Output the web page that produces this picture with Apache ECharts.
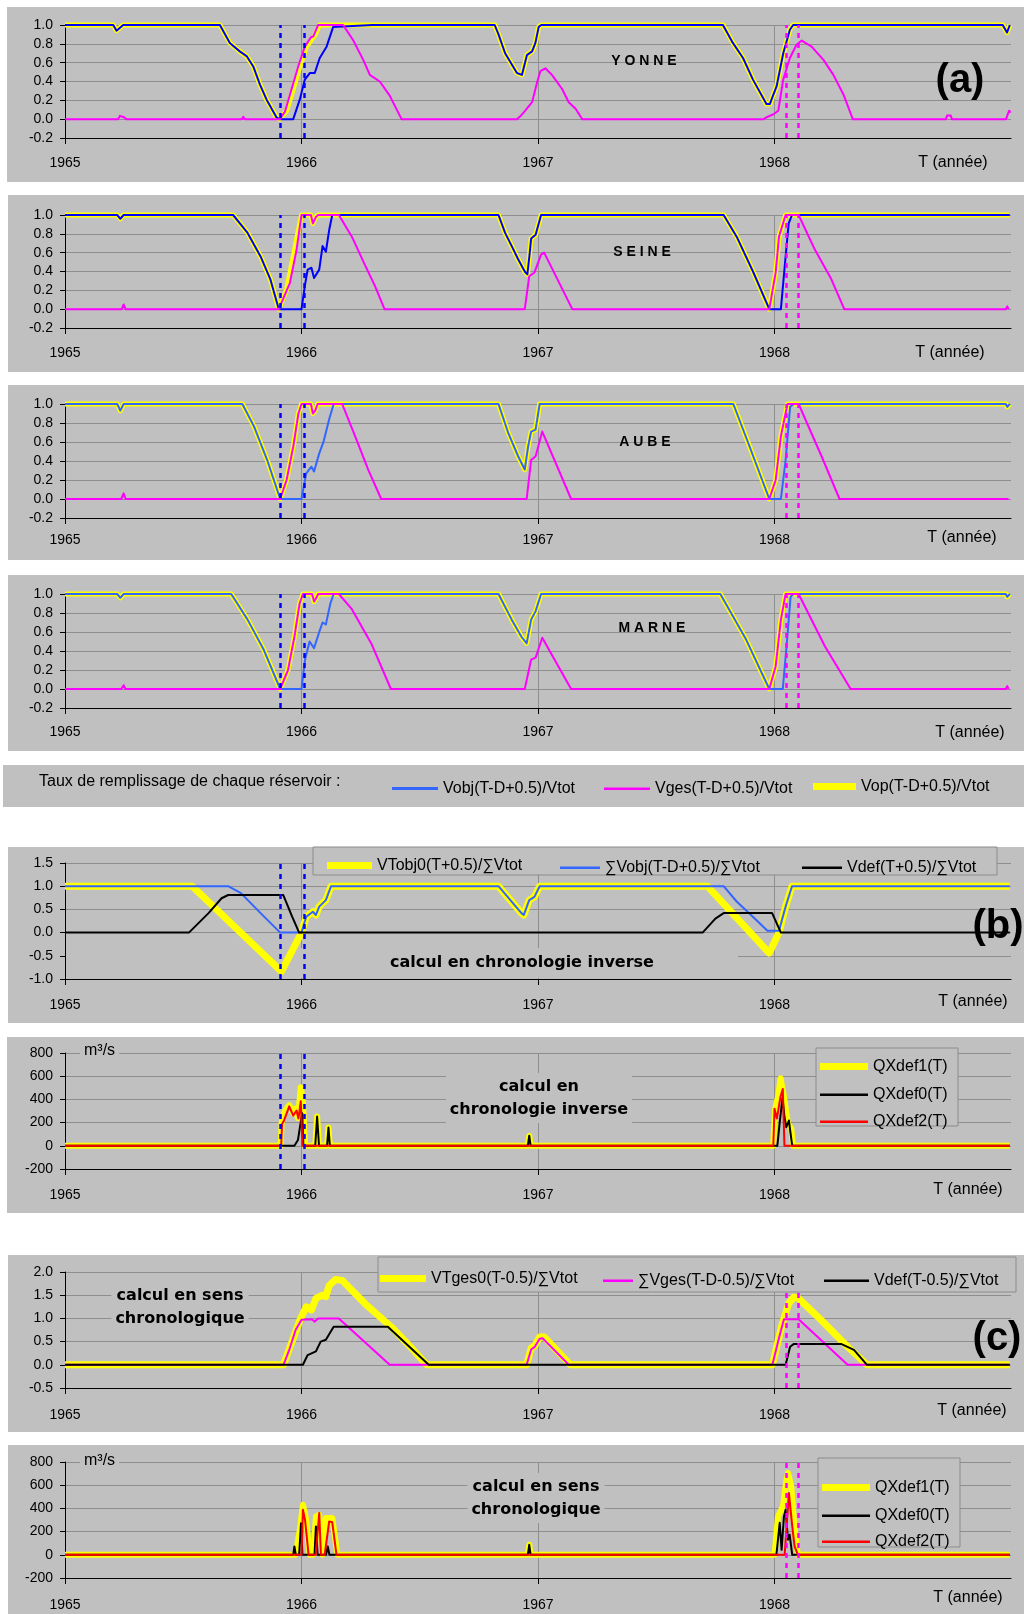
<!DOCTYPE html>
<html>
<head>
<meta charset="utf-8">
<script src="https://cdn.jsdelivr.net/npm/echarts@6/dist/echarts.min.js"></script>
<style>
html, body { margin: 0; padding: 0; background: #fff; }
#main { width: 1024px; height: 1614px; }
</style>
</head>
<body>
<div id="main"></div>
<script>
// ---------- data (x = année, y = valeur) ----------
var years = [1965, 1966, 1967, 1968];

// (a) taux de remplissage de chaque réservoir
var yonneVop = [[1965,1],[1965.204,1],[1965.218,0.94],[1965.246,1],[1965.655,1],[1965.697,0.81],[1965.739,0.72],[1965.768,0.67],[1965.796,0.56],[1965.824,0.37],[1965.852,0.21],[1965.894,0.02],[1965.908,0],[1965.937,0.09],[1965.965,0.32],[1965.993,0.56],[1966.021,0.77],[1966.056,0.89],[1966.077,1],[1966.3,1],[1966.6,1],[1966.817,1],[1966.833,0.9],[1966.861,0.7],[1966.911,0.49],[1966.932,0.47],[1966.953,0.68],[1966.975,0.72],[1966.989,0.81],[1967.003,0.98],[1967.014,1],[1967.782,1],[1967.824,0.81],[1967.867,0.65],[1967.909,0.42],[1967.966,0.16],[1967.98,0.16],[1968.009,0.35],[1968.037,0.7],[1968.065,0.95],[1968.079,1],[1968.965,1],[1968.983,0.92],[1968.995,1]];
var yonneVobj = [[1965,1],[1965.204,1],[1965.218,0.94],[1965.246,1],[1965.655,1],[1965.697,0.81],[1965.739,0.72],[1965.768,0.67],[1965.796,0.56],[1965.824,0.37],[1965.852,0.21],[1965.894,0.02],[1965.908,0],[1965.965,0],[1965.993,0.21],[1966.014,0.42],[1966.035,0.49],[1966.056,0.49],[1966.077,0.65],[1966.106,0.77],[1966.134,0.98],[1966.141,1],[1966.3,1],[1966.6,1],[1966.817,1],[1966.833,0.9],[1966.861,0.7],[1966.911,0.49],[1966.932,0.47],[1966.953,0.68],[1966.975,0.72],[1966.989,0.81],[1967.003,0.98],[1967.014,1],[1967.782,1],[1967.824,0.81],[1967.867,0.65],[1967.909,0.42],[1967.966,0.16],[1967.98,0.16],[1968.009,0.35],[1968.037,0.7],[1968.065,0.95],[1968.079,1],[1968.965,1],[1968.983,0.92],[1968.995,1]];
var yonneVges = [[1965,0],[1965.042,0],[1965.049,0.02],[1965.056,0],[1965.225,0],[1965.232,0.035],[1965.25,0.02],[1965.26,0],[1965.425,0],[1965.43,0.02],[1965.436,0],[1965.7,0],[1965.704,0.015],[1965.708,0],[1965.748,0],[1965.754,0.025],[1965.76,0],[1965.908,0],[1965.93,0.08],[1965.958,0.32],[1965.986,0.56],[1966.014,0.77],[1966.04,0.87],[1966.05,0.88],[1966.07,1],[1966.176,1],[1966.218,0.84],[1966.261,0.63],[1966.289,0.47],[1966.331,0.4],[1966.373,0.25],[1966.423,0],[1966.588,0],[1966.592,0.015],[1966.596,0],[1966.911,0],[1966.925,0.03],[1966.946,0.09],[1966.975,0.18],[1966.996,0.39],[1967.01,0.51],[1967.031,0.54],[1967.059,0.47],[1967.102,0.32],[1967.13,0.18],[1967.159,0.11],[1967.187,0],[1967.396,0],[1967.4,0.015],[1967.404,0],[1967.707,0],[1967.711,0.015],[1967.715,0],[1967.955,0],[1967.966,0.02],[1967.994,0.05],[1968.016,0.09],[1968.037,0.42],[1968.065,0.65],[1968.093,0.79],[1968.115,0.835],[1968.157,0.77],[1968.207,0.63],[1968.249,0.47],[1968.292,0.26],[1968.331,0],[1968.67,0],[1968.674,0.02],[1968.68,0],[1968.725,0],[1968.73,0.04],[1968.745,0.04],[1968.75,0],[1968.979,0],[1968.992,0.09],[1968.998,0.07]];

var seineVop = [[1965,1],[1965.221,1],[1965.234,0.96],[1965.248,1],[1965.711,1],[1965.772,0.81],[1965.827,0.56],[1965.868,0.32],[1965.904,0],[1965.937,0.21],[1965.965,0.56],[1965.987,0.84],[1966.0,1],[1966.04,1],[1966.048,0.91],[1966.061,0.98],[1966.07,1],[1966.833,1],[1966.861,0.81],[1966.889,0.67],[1966.916,0.53],[1966.944,0.4],[1966.955,0.37],[1966.963,0.55],[1966.971,0.75],[1966.99,0.79],[1967.013,1],[1967.785,1],[1967.84,0.77],[1967.909,0.4],[1967.978,0],[1968.005,0.39],[1968.019,0.77],[1968.047,1],[1968.995,1]];
var seineVobj = [[1965,1],[1965.221,1],[1965.234,0.96],[1965.248,1],[1965.711,1],[1965.772,0.81],[1965.827,0.56],[1965.868,0.32],[1965.904,0],[1966.0,0],[1966.015,0.26],[1966.026,0.42],[1966.042,0.44],[1966.053,0.33],[1966.075,0.42],[1966.089,0.67],[1966.103,0.61],[1966.117,0.84],[1966.13,1],[1966.833,1],[1966.861,0.81],[1966.889,0.67],[1966.916,0.53],[1966.944,0.4],[1966.955,0.37],[1966.963,0.55],[1966.971,0.75],[1966.99,0.79],[1967.013,1],[1967.785,1],[1967.84,0.77],[1967.909,0.4],[1967.978,0],[1968.027,0],[1968.047,0.56],[1968.06,0.91],[1968.074,1],[1968.995,1]];
var seineVges = [[1965,0],[1965.24,0],[1965.248,0.05],[1965.256,0],[1965.904,0],[1965.951,0.28],[1965.979,0.63],[1966.0,1],[1966.04,1],[1966.048,0.91],[1966.061,0.98],[1966.07,1],[1966.158,1],[1966.213,0.77],[1966.268,0.47],[1966.31,0.25],[1966.351,0],[1966.944,0],[1966.963,0.35],[1966.985,0.39],[1967.013,0.58],[1967.026,0.6],[1967.145,0],[1967.978,0],[1968.005,0.39],[1968.019,0.77],[1968.047,1],[1968.102,1],[1968.171,0.63],[1968.24,0.32],[1968.295,0],[1968.978,0],[1968.984,0.03],[1968.99,0]];

var aubeVop = [[1965,1],[1965.221,1],[1965.234,0.93],[1965.248,1],[1965.75,1],[1965.8,0.76],[1965.855,0.41],[1965.91,0],[1965.937,0.2],[1965.965,0.55],[1965.987,0.9],[1966.0,1],[1966.04,1],[1966.048,0.9],[1966.058,0.93],[1966.068,1],[1966.833,1],[1966.875,0.69],[1966.916,0.45],[1966.944,0.31],[1966.958,0.55],[1966.971,0.71],[1966.99,0.73],[1967.007,1],[1967.826,1],[1967.895,0.55],[1967.978,0],[1968.005,0.2],[1968.027,0.66],[1968.055,1],[1968.978,1],[1968.984,0.97],[1968.995,1]];
var aubeVobj = [[1965,1],[1965.221,1],[1965.234,0.93],[1965.248,1],[1965.75,1],[1965.8,0.76],[1965.855,0.41],[1965.91,0],[1966.0,0],[1966.02,0.27],[1966.042,0.34],[1966.053,0.29],[1966.075,0.48],[1966.094,0.61],[1966.117,0.84],[1966.136,1],[1966.833,1],[1966.875,0.69],[1966.916,0.45],[1966.944,0.31],[1966.958,0.55],[1966.971,0.71],[1966.99,0.73],[1967.007,1],[1967.826,1],[1967.895,0.55],[1967.978,0],[1968.027,0],[1968.047,0.41],[1968.066,0.97],[1968.082,1],[1968.978,1],[1968.984,0.97],[1968.995,1]];
var aubeVges = [[1965,0],[1965.238,0],[1965.248,0.06],[1965.256,0],[1965.91,0],[1965.937,0.2],[1965.965,0.55],[1965.987,0.9],[1966.0,1],[1966.04,1],[1966.048,0.9],[1966.058,0.93],[1966.068,1],[1966.172,1],[1966.227,0.66],[1966.282,0.31],[1966.337,0],[1966.952,0],[1966.971,0.41],[1966.99,0.45],[1967.018,0.71],[1967.025,0.7],[1967.14,0],[1967.978,0],[1968.005,0.2],[1968.027,0.66],[1968.055,1],[1968.102,1],[1968.199,0.45],[1968.275,0],[1968.978,0],[1968.984,0.02],[1968.99,0]];

var marneVop = [[1965,1],[1965.221,1],[1965.234,0.96],[1965.248,1],[1965.703,1],[1965.772,0.73],[1965.841,0.41],[1965.91,0],[1965.943,0.2],[1965.97,0.55],[1965.992,0.9],[1966.006,1],[1966.045,1],[1966.053,0.92],[1966.063,0.96],[1966.07,1],[1966.833,1],[1966.889,0.73],[1966.93,0.55],[1966.952,0.48],[1966.971,0.73],[1966.99,0.82],[1967.013,1],[1967.771,1],[1967.88,0.52],[1967.978,0],[1968.005,0.24],[1968.027,0.73],[1968.047,1],[1968.978,1],[1968.984,0.97],[1968.995,1]];
var marneVobj = [[1965,1],[1965.221,1],[1965.234,0.96],[1965.248,1],[1965.703,1],[1965.772,0.73],[1965.841,0.41],[1965.91,0],[1966.0,0],[1966.015,0.31],[1966.034,0.5],[1966.053,0.43],[1966.075,0.6],[1966.089,0.7],[1966.103,0.68],[1966.122,0.9],[1966.136,1],[1966.833,1],[1966.889,0.73],[1966.93,0.55],[1966.952,0.48],[1966.971,0.73],[1966.99,0.82],[1967.013,1],[1967.771,1],[1967.88,0.52],[1967.978,0],[1968.035,0],[1968.052,0.48],[1968.068,0.97],[1968.08,1],[1968.978,1],[1968.984,0.97],[1968.995,1]];
var marneVges = [[1965,0],[1965.238,0],[1965.248,0.04],[1965.256,0],[1965.91,0],[1965.943,0.2],[1965.97,0.55],[1965.992,0.9],[1966.006,1],[1966.045,1],[1966.053,0.92],[1966.063,0.96],[1966.07,1],[1966.158,1],[1966.213,0.84],[1966.295,0.48],[1966.378,0],[1966.944,0],[1966.971,0.31],[1966.99,0.33],[1967.018,0.54],[1967.025,0.52],[1967.14,0],[1967.978,0],[1968.005,0.24],[1968.027,0.73],[1968.047,1],[1968.102,1],[1968.213,0.45],[1968.322,0],[1968.978,0],[1968.984,0.03],[1968.99,0]];

// (b) calcul en chronologie inverse
var bVTobj0 = [[1965,1],[1965.538,1],[1965.915,-0.84],[1966.0,0],[1966.02,0.34],[1966.048,0.45],[1966.061,0.38],[1966.075,0.56],[1966.103,0.7],[1966.125,1],[1966.833,1],[1966.93,0.42],[1966.94,0.38],[1966.963,0.7],[1966.985,0.77],[1967.007,1],[1967.716,1],[1967.978,-0.44],[1968.019,0],[1968.047,0.56],[1968.074,1],[1968.995,1]];
var bSumVobj = [[1965,1],[1965.69,1],[1965.744,0.85],[1965.827,0.42],[1965.91,0],[1966.0,0],[1966.02,0.34],[1966.048,0.45],[1966.061,0.38],[1966.075,0.56],[1966.103,0.7],[1966.125,1],[1966.833,1],[1966.93,0.42],[1966.94,0.38],[1966.963,0.7],[1966.985,0.77],[1967.007,1],[1967.785,1],[1967.84,0.67],[1967.923,0.27],[1967.97,0.04],[1968.019,0.04],[1968.047,0.56],[1968.074,1],[1968.995,1]];
var bVdef = [[1965,0],[1965.524,0],[1965.607,0.42],[1965.662,0.74],[1965.69,0.81],[1965.923,0.81],[1965.94,0.6],[1965.96,0.35],[1965.99,0],[1967.696,0],[1967.75,0.3],[1967.785,0.42],[1967.99,0.42],[1968.027,0],[1968.995,0]];

var qiDef1 = [[1965,0],[1965.912,0],[1965.916,200],[1965.93,300],[1965.948,350],[1965.965,280],[1965.975,320],[1965.985,240],[1965.997,505],[1966.006,380],[1966.015,0],[1966.058,0],[1966.066,252],[1966.074,0],[1966.108,0],[1966.114,157],[1966.12,0],[1966.957,0],[1966.963,87],[1966.969,0],[1967.994,0],[1968.003,320],[1968.015,420],[1968.026,583],[1968.04,420],[1968.057,190],[1968.071,148],[1968.078,0],[1968.995,0]];
var qiDef0 = [[1965,0],[1965.97,0],[1965.985,50],[1965.995,180],[1966.003,280],[1966.008,0],[1966.058,0],[1966.066,252],[1966.074,0],[1966.108,0],[1966.114,157],[1966.12,0],[1966.957,0],[1966.963,87],[1966.969,0],[1968.012,0],[1968.022,200],[1968.034,415],[1968.042,250],[1968.05,160],[1968.061,218],[1968.068,104],[1968.075,0],[1968.995,0]];
var qiDef2 = [[1965,0],[1965.914,0],[1965.918,190],[1965.926,217],[1965.948,340],[1965.965,261],[1965.979,304],[1965.987,235],[1965.997,385],[1966.004,0],[1967.995,0],[1968.0,320],[1968.01,235],[1968.025,420],[1968.035,490],[1968.042,0],[1968.995,0]];

// (c) calcul en sens chronologique
var cVTges0 = [[1965,0],[1965.24,0],[1965.248,0.04],[1965.256,0],[1965.924,0],[1965.993,0.96],[1966.02,1.25],[1966.042,1.18],[1966.061,1.43],[1966.089,1.5],[1966.103,1.47],[1966.117,1.71],[1966.144,1.84],[1966.172,1.82],[1966.268,1.32],[1966.379,0.82],[1966.447,0.46],[1966.53,0],[1966.952,0],[1966.971,0.36],[1966.985,0.4],[1967.007,0.6],[1967.026,0.6],[1967.137,0],[1967.991,0],[1968.033,0.89],[1968.06,1.32],[1968.082,1.46],[1968.102,1.43],[1968.198,0.96],[1968.309,0.39],[1968.391,0],[1968.995,0]];
var cSumVges = [[1965,0],[1965.924,0],[1965.95,0.35],[1965.975,0.75],[1966.0,0.97],[1966.045,0.98],[1966.055,0.93],[1966.07,1],[1966.158,1],[1966.373,0],[1966.952,0],[1966.971,0.33],[1966.985,0.38],[1967.007,0.56],[1967.02,0.57],[1967.13,0],[1967.991,0],[1968.02,0.6],[1968.04,0.98],[1968.102,0.98],[1968.309,0],[1968.995,0]];
var cVdef = [[1965,0],[1966.006,0],[1966.026,0.21],[1966.061,0.29],[1966.081,0.5],[1966.103,0.54],[1966.136,0.82],[1966.365,0.82],[1966.538,0],[1968.047,0],[1968.066,0.39],[1968.082,0.45],[1968.281,0.45],[1968.336,0.32],[1968.391,0],[1968.995,0]];

var qcDef1 = [[1965,0],[1965.975,0],[1965.993,216],[1966.006,432],[1966.02,302],[1966.034,0],[1966.05,0],[1966.061,331],[1966.075,345],[1966.089,0],[1966.096,0],[1966.103,317],[1966.13,317],[1966.152,0],[1966.957,0],[1966.963,86],[1966.969,0],[1968.0,0],[1968.015,330],[1968.036,417],[1968.05,640],[1968.057,705],[1968.071,590],[1968.085,216],[1968.099,0],[1968.995,0]];
var qcDef0 = [[1965,0],[1965.965,0],[1965.97,72],[1965.976,0],[1965.99,0],[1965.998,273],[1966.004,0],[1966.055,0],[1966.061,245],[1966.068,0],[1966.104,0],[1966.111,72],[1966.118,0],[1966.957,0],[1966.963,86],[1966.969,0],[1968.008,0],[1968.022,276],[1968.03,43],[1968.04,330],[1968.047,388],[1968.057,130],[1968.064,173],[1968.075,0],[1968.995,0]];
var qcDef2 = [[1965,0],[1966.0,0],[1966.006,389],[1966.015,300],[1966.03,0],[1966.06,0],[1966.075,360],[1966.082,0],[1966.098,0],[1966.117,288],[1966.13,280],[1966.148,0],[1968.043,0],[1968.061,532],[1968.075,245],[1968.085,72],[1968.099,0],[1968.995,0]];

// dates des traits pointillés verticaux
var dashBlue = [1965.912, 1966.007];
var dashMagenta = [1968.045, 1968.1];

// ---------- mise en page ----------
var FONT = 'Arial, "Liberation Sans", sans-serif';
var YELLOW = '#ffff00', MAGENTA = '#ff00ff', BLUE = '#0000ff', LBLUE = '#3366ff', RED = '#ff0000', BLACK = '#000000';
var GRID_LINE = '#8e8e8e';

// [top, height, margin du label x, ymin, ymax, intervalle, décimales]
var panels = [
  [25, 113, 18, -0.2, 1, 0.2, 1],
  [215, 113, 18, -0.2, 1, 0.2, 1],
  [404, 114, 15, -0.2, 1, 0.2, 1],
  [594, 114, 17, -0.2, 1, 0.2, 1],
  [863, 116, 19, -1, 1.5, 0.5, 1],
  [1053, 116, 19, -200, 800, 200, 0],
  [1272, 116, 20, -0.5, 2, 0.5, 1],
  [1462, 116, 20, -200, 800, 200, 0]
];

var grid = [], xAxis = [], yAxis = [];
panels.forEach(function (p, i) {
  grid.push({ left: 65, width: 946, top: p[0], height: p[1], outerBoundsMode: 'none', containLabel: false });
  xAxis.push({
    type: 'value', gridIndex: i, min: 1965, max: 1969, interval: 1,
    axisLine: { onZero: false, lineStyle: { color: BLACK, width: 1 } },
    axisTick: { show: true, length: 6, lineStyle: { color: BLACK } },
    axisLabel: { margin: p[2], fontSize: 14, fontFamily: FONT, color: BLACK, showMaxLabel: false,
      formatter: function (v) { return years.indexOf(v) >= 0 ? String(v) : ''; } },
    splitLine: { show: true, showMinLine: false, showMaxLine: false, lineStyle: { color: GRID_LINE, width: 1 } }
  });
  yAxis.push({
    type: 'value', gridIndex: i, min: p[3], max: p[4], interval: p[5],
    axisLine: { show: true, onZero: false, lineStyle: { color: BLACK, width: 1 } },
    axisTick: { show: true, length: 5, lineStyle: { color: BLACK } },
    axisLabel: { margin: 12, fontSize: 14, fontFamily: FONT, color: BLACK,
      formatter: (function (d) { return function (v) { return (Math.abs(v) < 1e-9 ? 0 : v).toFixed(d); }; })(p[6]) },
    splitLine: { show: true, lineStyle: { color: GRID_LINE, width: 1 } }
  });
});

function line(name, g, data, color, width) {
  return {
    type: 'line', name: name, xAxisIndex: g, yAxisIndex: g, data: data,
    symbol: 'none', showSymbol: false, silent: true, animation: false, clip: false,
    lineStyle: { color: color, width: width, join: 'round' },
    itemStyle: { color: color },
    emphasis: { disabled: true }
  };
}
function withDashes(s, blue, magenta) {
  var items = [];
  (blue || []).forEach(function (x) { items.push({ xAxis: x, lineStyle: { color: BLUE, type: [5, 5], width: 2.5 } }); });
  (magenta || []).forEach(function (x) { items.push({ xAxis: x, lineStyle: { color: MAGENTA, type: [5, 5], width: 2.5 } }); });
  s.markLine = { symbol: ['none', 'none'], silent: true, animation: false, label: { show: false }, data: items };
  return s;
}

var NOBJ = 'Vobj(T-D+0.5)/Vtot', NGES = 'Vges(T-D+0.5)/Vtot', NOP = 'Vop(T-D+0.5)/Vtot';
var rivers = [
  [yonneVop, yonneVobj, yonneVges, BLUE],
  [seineVop, seineVobj, seineVges, BLUE],
  [aubeVop, aubeVobj, aubeVges, LBLUE],
  [marneVop, marneVobj, marneVges, LBLUE]
];
var series = [];
rivers.forEach(function (r, i) {
  series.push(line(NOP, i, r[0], YELLOW, 5));
  series.push(line(NOBJ, i, r[1], r[3], 2));
  series.push(withDashes(line(NGES, i, r[2], MAGENTA, 2), dashBlue, dashMagenta));
});
series.push(line('VTobj0(T+0.5)/∑Vtot', 4, bVTobj0, YELLOW, 7));
series.push(line('∑Vobj(T-D+0.5)/∑Vtot', 4, bSumVobj, LBLUE, 2));
series.push(withDashes(line('Vdef(T+0.5)/∑Vtot', 4, bVdef, BLACK, 2), dashBlue, null));
series.push(line('QXdef1(T)', 5, qiDef1, YELLOW, 6));
series.push(line('QXdef0(T)', 5, qiDef0, BLACK, 2));
series.push(withDashes(line('QXdef2(T)', 5, qiDef2, RED, 2), dashBlue, null));
series.push(line('VTges0(T-0.5)/∑Vtot', 6, cVTges0, YELLOW, 7));
series.push(line('∑Vges(T-D-0.5)/∑Vtot', 6, cSumVges, MAGENTA, 2));
series.push(withDashes(line('Vdef(T-0.5)/∑Vtot', 6, cVdef, BLACK, 2), null, dashMagenta));
series.push(line('QXdef1(T)', 7, qcDef1, YELLOW, 6));
series.push(line('QXdef0(T)', 7, qcDef0, BLACK, 2));
series.push(withDashes(line('QXdef2(T)', 7, qcDef2, RED, 2), null, dashMagenta));

// one legend per item: a plain rectangle icon whose height is the line thickness
function leg(name, left, cy, w, color, lw) {
  return {
    data: [{ name: name, icon: 'rect' }], left: left, top: cy - lw / 2, itemWidth: w, itemHeight: lw,
    padding: 0, itemGap: 0, selectedMode: false, z: 20,
    textStyle: { fontSize: 16, fontFamily: FONT, color: BLACK },
    itemStyle: { color: color, borderWidth: 0 }
  };
}
var legend = [
  leg(NOBJ, 392, 782, 46, LBLUE, 3),
  leg(NGES, 604, 782, 46, MAGENTA, 2.5),
  leg(NOP, 813, 782, 43, YELLOW, 7),
  leg('VTobj0(T+0.5)/∑Vtot', 327, 861, 45, YELLOW, 7),
  leg('∑Vobj(T-D+0.5)/∑Vtot', 560, 861, 40, LBLUE, 2.5),
  leg('Vdef(T+0.5)/∑Vtot', 802, 861, 40, BLACK, 2.5),
  leg('QXdef1(T)', 820, 1062, 48, YELLOW, 7),
  leg('QXdef0(T)', 820, 1088, 48, BLACK, 2.5),
  leg('QXdef2(T)', 820, 1115, 48, RED, 2.5),
  leg('VTges0(T-0.5)/∑Vtot', 380, 1274, 46, YELLOW, 7),
  leg('∑Vges(T-D-0.5)/∑Vtot', 603, 1274, 30, MAGENTA, 2.5),
  leg('Vdef(T-0.5)/∑Vtot', 824, 1274, 45, BLACK, 2.5),
  leg('QXdef1(T)', 822, 1483, 48, YELLOW, 7),
  leg('QXdef0(T)', 822, 1509, 48, BLACK, 2.5),
  leg('QXdef2(T)', 822, 1535, 48, RED, 2.5)
];

// fonds gris des panneaux et cadres des légendes
var graphic = [];
[[7, 7, 1017, 175], [8, 195, 1016, 177], [8, 385, 1016, 175], [8, 575, 1016, 176], [3, 765, 1021, 42],
 [8, 847, 1016, 176], [7, 1037, 1017, 176], [8, 1255, 1016, 177], [8, 1445, 1016, 169]].forEach(function (r) {
  graphic.push({ type: 'rect', z: -10, silent: true, shape: { x: r[0], y: r[1], width: r[2], height: r[3] }, style: { fill: '#c0c0c0' } });
});
[[313, 847, 684, 28], [816, 1048, 142, 78], [378, 1257, 638, 35], [818, 1458, 142, 89]].forEach(function (r) {
  graphic.push({ type: 'rect', z: 15, silent: true, shape: { x: r[0], y: r[1], width: r[2], height: r[3] }, style: { fill: '#c0c0c0', stroke: '#8c8c8c', lineWidth: 1 } });
});
graphic.push({ type: 'rect', z: 1, silent: true, shape: { x: 66, y: 948, width: 672, height: 30 }, style: { fill: '#c0c0c0' } });

function txt(t, x, y, font, align, extra) {
  var st = { text: t, x: x, y: y, font: font, fill: BLACK, align: align || 'center', textAlign: align || 'center',
             verticalAlign: 'middle', textVerticalAlign: 'middle' };
  for (var k in (extra || {})) st[k] = extra[k];
  graphic.push({ type: 'text', z: (extra && extra.backgroundColor) ? 1 : 10, silent: true, style: st });
}
var NAME_FONT = 'bold 14px Arial, "Liberation Sans", sans-serif';
var NOTE_FONT = 'bold 16px "DejaVu Sans", sans-serif';
var TAG_FONT = 'bold 40px Arial, "Liberation Sans", sans-serif';
var AXN_FONT = '16px Arial, "Liberation Sans", sans-serif';
var bg = { backgroundColor: '#c0c0c0', padding: [2, 4], lineHeight: 23 };

txt('Y O N N E', 644, 61, NAME_FONT);
txt('S E I N E', 642, 252, NAME_FONT);
txt('A U B E', 645, 442, NAME_FONT);
txt('M A R N E', 652, 628, NAME_FONT);
txt('(a)', 960, 81, TAG_FONT);
txt('(b)', 998, 927, TAG_FONT);
txt('(c)', 997, 1339, TAG_FONT);
txt('Taux de remplissage de chaque réservoir :', 39, 782, AXN_FONT, 'left');
txt('calcul en chronologie inverse', 522, 963, NOTE_FONT);
txt('calcul en\nchronologie inverse', 539, 1098, NOTE_FONT, 'center', bg);
txt('calcul en sens\nchronologique', 180, 1307, NOTE_FONT, 'center', bg);
txt('calcul en sens\nchronologique', 536, 1498, NOTE_FONT, 'center', bg);
txt('m³/s', 80, 1051, AXN_FONT, 'left', { backgroundColor: '#c0c0c0', padding: [0, 4] });
txt('m³/s', 80, 1461, AXN_FONT, 'left', { backgroundColor: '#c0c0c0', padding: [0, 4] });
[[953, 163], [950, 353], [962, 538], [970, 733], [973, 1002], [968, 1190], [972, 1411], [968, 1598]].forEach(function (p) {
  txt('T (année)', p[0], p[1], AXN_FONT);
});

var chart = echarts.init(document.getElementById('main'), null, { renderer: 'canvas' });
chart.setOption({
  backgroundColor: '#ffffff',
  animation: false,
  grid: grid,
  xAxis: xAxis,
  yAxis: yAxis,
  legend: legend,
  series: series,
  graphic: graphic
});
</script>
</body>
</html>
